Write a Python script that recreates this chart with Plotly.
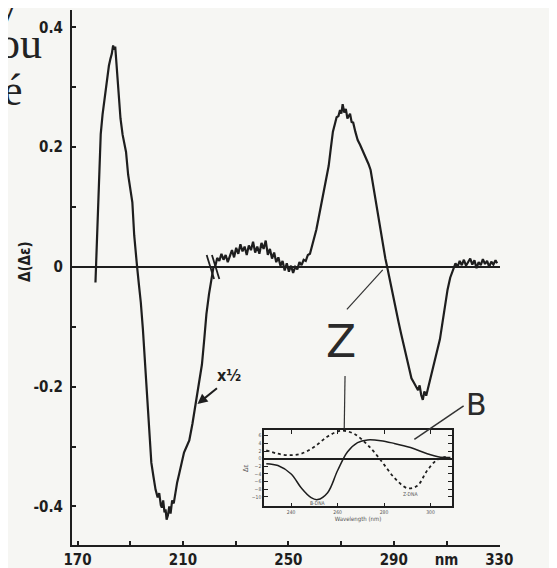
import plotly.graph_objects as go

# main CD difference spectrum, left part drawn at x1/2 scale
SEG1_NM = [176.8, 177.0, 177.6, 178.2, 178.8, 179.5, 180.1, 180.7, 181.3, 181.9, 182.5, 183.0,
           183.5, 183.9, 184.3, 184.9, 185.6, 186.3, 187.1, 187.8, 188.4, 189.2, 190.0, 190.8,
           191.5, 192.0, 192.6, 193.3, 194.0, 194.8, 195.4, 196.1, 196.8, 197.4, 198.0, 198.8,
           199.6, 200.4, 201.0, 201.6, 202.0, 202.5, 203.0, 203.4, 203.8, 204.3, 204.8, 205.3,
           205.9, 206.5, 207.1, 207.8, 208.6, 209.4, 210.4, 211.4, 212.4, 213.6, 214.7, 216.0,
           217.2, 218.1, 218.9, 219.9, 221.0, 221.6]
SEG1_VAL = [-0.026, 0.0, 0.08, 0.16, 0.222, 0.255, 0.277, 0.300, 0.322, 0.336, 0.348, 0.356,
            0.370, 0.363, 0.368, 0.331, 0.276, 0.248, 0.221, 0.205, 0.192, 0.154, 0.130, 0.108,
            0.053, 0.025, 0.0, -0.030, -0.059, -0.104, -0.145, -0.188, -0.230, -0.271, -0.327, -0.350,
            -0.372, -0.385, -0.378, -0.398, -0.402, -0.390, -0.410, -0.405, -0.422, -0.415, -0.400, -0.412,
            -0.390, -0.395, -0.378, -0.360, -0.345, -0.328, -0.310, -0.300, -0.290, -0.262, -0.234, -0.200,
            -0.163, -0.120, -0.079, -0.045, -0.013, 0.0]

SEG2_NM = [222.2, 223.0, 223.8, 224.6, 225.4, 226.2, 227.0, 227.8, 228.6, 229.4, 230.2, 231.0,
           231.8, 232.6, 233.4, 234.2, 235.0, 235.8, 236.6, 237.4, 238.2, 239.0, 239.8, 240.6,
           241.4, 242.2, 243.0, 243.8, 244.6, 245.4, 246.2, 247.0, 247.8, 248.6, 249.4, 250.2,
           251.0, 251.8, 252.6, 253.4, 254.2, 255.0, 255.8, 256.6, 257.4, 258.2, 259.0, 259.8,
           260.6, 261.4, 262.2, 263.0, 263.8, 264.6, 265.3, 266.1, 266.9, 267.6, 268.3, 269.0,
           269.6, 270.1, 270.6, 271.2, 271.8, 272.4, 272.8, 273.4, 274.0, 274.6, 275.4, 276.3,
           277.2, 278.0, 278.8, 279.6, 280.4, 281.2, 282.0, 282.6, 283.1, 283.8, 284.6, 285.3,
           286.0, 286.8, 287.5, 288.3, 289.1, 290.0, 290.8, 291.8, 292.8, 293.9, 295.1, 295.9,
           296.7, 297.6, 298.5, 299.2, 299.8, 300.4, 301.0, 301.6, 302.3, 303.1, 304.2, 305.3,
           306.4, 307.5, 308.3, 309.0, 309.7, 310.4, 311.4, 312.6, 313.4, 314.2, 315.0, 315.8,
           316.6, 317.4, 318.2, 319.0, 319.8, 320.6, 321.4, 322.2, 323.0, 323.8, 324.6, 325.4,
           326.2, 327.0, 327.8, 328.6, 329.2]
SEG2_VAL = [0.0, 0.015, 0.010, 0.022, 0.012, 0.020, 0.008, 0.018, 0.028, 0.016, 0.032, 0.022,
            0.038, 0.026, 0.034, 0.020, 0.036, 0.028, 0.042, 0.024, 0.034, 0.022, 0.040, 0.030,
            0.044, 0.020, 0.030, 0.014, 0.024, 0.008, 0.016, 0.002, 0.010, -0.006, 0.006, -0.008,
            0.002, -0.010, 0.0, -0.004, 0.008, 0.003, 0.012, 0.010, 0.020, 0.022, 0.035, 0.048,
            0.062, 0.080, 0.097, 0.114, 0.132, 0.150, 0.169, 0.198, 0.226, 0.238, 0.250, 0.252,
            0.262, 0.256, 0.272, 0.258, 0.264, 0.248, 0.251, 0.256, 0.242, 0.241, 0.226, 0.212,
            0.204, 0.196, 0.190, 0.182, 0.172, 0.162, 0.140, 0.124, 0.111, 0.094, 0.074, 0.056,
            0.035, 0.014, 0.0, -0.018, -0.034, -0.052, -0.073, -0.092, -0.112, -0.134, -0.158, -0.172,
            -0.186, -0.193, -0.200, -0.206, -0.198, -0.214, -0.222, -0.208, -0.215, -0.200, -0.182, -0.159,
            -0.140, -0.121, -0.098, -0.076, -0.056, -0.038, -0.018, -0.005, 0.006, 0.0, 0.010, 0.003,
            0.012, 0.002, 0.009, 0.014, 0.004, 0.011, -0.002, 0.008, 0.003, 0.013, 0.005, 0.010,
            0.0, 0.009, 0.004, 0.011, 0.006]

# inset: reference spectra (Z dotted, B solid)
INSET_NM = [229.3, 234.3, 239.3, 244.3, 250.0, 255.7, 261.4, 267.1, 272.9, 278.6, 284.3, 290.0,
            294.3, 298.6, 302.9, 307.9]
INSET_Z = [2.2, 1.3, 0.9, 1.3, 3.1, 5.8, 7.3, 6.5, 3.6, -0.4, -4.9, -7.7, -7.1, -3.1, -0.3, 0.6]
INSET_B_NM = [229.3, 234.3, 240.0, 244.3, 248.6, 251.4, 255.7, 260.0, 264.3, 268.6, 272.9, 278.6,
              284.3, 291.4, 298.6, 304.3, 308.6]
INSET_B = [-1.3, -1.8, -4.0, -7.6, -10.2, -10.7, -8.9, -3.1, 1.8, 4.2, 4.9, 4.7, 4.0, 2.9, 1.3, 0.4, 0.3]

X_TICKS = [170, 190, 210, 230, 250, 270, 290, 310, 330]
X_LABELS = ["170", "", "210", "", "250", "", "290", "nm", "330"]
Y_TICKS = [0.4, 0.3, 0.2, 0.1, 0, -0.1, -0.2, -0.3, -0.4]
Y_LABELS = ["0.4", "", "0.2", "", "0", "", "-0.2", "", "-0.4"]
INSET_XT = [240, 260, 280, 300]
INSET_YT = [6, 4, 2, 0, -2, -4, -6, -8, -10]

INK = "#1e1e1e"
PAPER = "#f6f6f3"
FONT = "DejaVu Sans Condensed, DejaVu Sans, sans-serif"
# the page body adds an 8px offset, so the figure is 8px smaller and shifted
OFF = 8
L, T, W, H = 72 - OFF, 10 - OFF, 428, 535
FIG_W, FIG_H = 557 - OFF, 568 - OFF


def paper(px, py):
    # page pixel -> paper coordinates
    return (px - OFF - L) / W, (T + H - (py - OFF)) / H


fig = go.Figure()
for xs, ys in [(SEG1_NM, SEG1_VAL), (SEG2_NM, SEG2_VAL)]:
    fig.add_trace(go.Scatter(x=xs, y=ys, mode="lines", line=dict(color=INK, width=2.2),
                             showlegend=False, hoverinfo="skip"))

fig.add_trace(go.Scatter(x=INSET_NM, y=INSET_Z, mode="lines", xaxis="x2", yaxis="y2",
                         line=dict(color=INK, width=1.8, dash="dot", shape="spline"),
                         showlegend=False, hoverinfo="skip"))
fig.add_trace(go.Scatter(x=INSET_B_NM, y=INSET_B, mode="lines", xaxis="x2", yaxis="y2",
                         line=dict(color=INK, width=1.5, shape="spline"),
                         showlegend=False, hoverinfo="skip"))

tick_font = dict(size=15, weight="bold", color=INK)
fig.update_layout(
    width=FIG_W, height=FIG_H,
    margin=dict(l=L, r=FIG_W - L - W, t=T, b=FIG_H - T - H),
    paper_bgcolor=PAPER, plot_bgcolor=PAPER,
    font=dict(family=FONT, color=INK),
    xaxis=dict(range=[167.9, 330.3], showline=True, linecolor=INK, linewidth=2,
               ticks="inside", ticklen=4, tickwidth=1.5, tickcolor=INK,
               tickvals=X_TICKS, ticktext=X_LABELS, tickfont=tick_font,
               showgrid=False, zeroline=False, automargin=False),
    yaxis=dict(range=[-0.4645, 0.4292], showline=True, linecolor=INK, linewidth=2,
               ticks="inside", ticklen=4, tickwidth=1.5, tickcolor=INK,
               tickvals=Y_TICKS, ticktext=Y_LABELS, tickfont=tick_font,
               ticklabelstandoff=4, showgrid=False, automargin=False,
               zeroline=True, zerolinecolor=INK, zerolinewidth=2),
    xaxis2=dict(domain=[0.4486, 0.888], anchor="y2", range=[228.3, 309.3],
                showline=True, mirror="allticks", linecolor=INK, linewidth=1.5,
                ticks="inside", ticklen=4, tickcolor=INK, tickvals=INSET_XT,
                tickfont=dict(size=5, color="#555"), showgrid=False, zeroline=False,
                automargin=False,
                title=dict(text="Wavelength (nm)", font=dict(size=6, color="#555"), standoff=1)),
    yaxis2=dict(domain=[0.072, 0.215], anchor="x2", range=[-12.5, 7.5],
                showline=True, mirror="allticks", linecolor=INK, linewidth=1.5,
                ticks="inside", ticklen=4, tickcolor=INK, tickvals=INSET_YT,
                tickfont=dict(size=5, color="#555"), showgrid=False, automargin=False,
                zeroline=True, zerolinecolor=INK, zerolinewidth=1.5,
                title=dict(text="Δε", font=dict(size=7, color="#555"), standoff=2)),
)

# axis break marks on the zero line
for c in [220.4, 222.4]:
    fig.add_shape(type="line", x0=c - 1.4, y0=0.02, x1=c + 1.4, y1=-0.02,
                  line=dict(color=INK, width=1.8))

# pointer lines for Z and B
fig.add_shape(type="line", x0=272.2, y0=-0.071, x1=285.8, y1=-0.005, line=dict(color="#333", width=1.2))
fig.add_shape(type="line", x0=271.5, y0=-0.182, x1=271.2, y1=-0.27, line=dict(color="#333", width=1.2))
fig.add_shape(type="line", x0=316.5, y0=-0.232, x1=297.8, y1=-0.288, line=dict(color="#333", width=1.5))

ann = [
    dict(x=270.0, y=-0.125, text="Z", font=dict(size=44, color="#2a2a2a",
                                                  family="DejaVu Sans, sans-serif")),
    dict(x=321.5, y=-0.23, text="B", font=dict(size=30, color="#2a2a2a",
                                                 family="DejaVu Sans, sans-serif")),
    dict(x=227.3, y=-0.181, text="x½", font=dict(size=16, color=INK, weight="bold")),
    dict(x=251.4, y=-11.6, xref="x2", yref="y2", text="B-DNA", font=dict(size=5, color="#555")),
    dict(x=291.5, y=-9.2, xref="x2", yref="y2", text="Z-DNA", font=dict(size=5, color="#555")),
]
for a in ann:
    a.setdefault("xref", "x")
    a.setdefault("yref", "y")
    fig.add_annotation(showarrow=False, **a)

fig.add_annotation(x=215.5, y=-0.229, ax=21, ay=-17, text="", showarrow=True,
                   arrowhead=2, arrowsize=1, arrowwidth=2, arrowcolor=INK)

# y axis title
tx, ty = paper(25, 262)
fig.add_annotation(x=tx, y=ty, xref="paper", yref="paper", text="Δ(Δε)", textangle=-90,
                   xanchor="center", yanchor="middle",
                   showarrow=False, font=dict(size=15, color=INK, weight="bold"))

# fragments of the surrounding page text
for txt, px, py in [("y", 20, 6), ("ou", 44, 44), ("é", 25, 90)]:
    x0, y0 = paper(px, py)
    fig.add_annotation(x=x0, y=y0, xref="paper", yref="paper", text=txt, showarrow=False,
                       xanchor="right", yanchor="middle",
                       font=dict(size=44, color="#222", family="Liberation Serif, serif"))

fig.write_html("out.html")
